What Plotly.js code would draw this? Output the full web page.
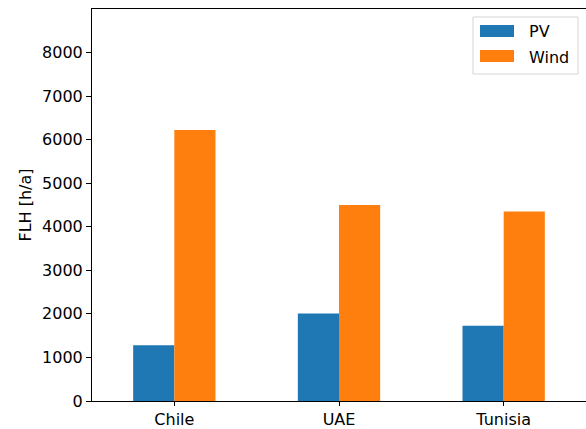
<!DOCTYPE html>
<html><head><meta charset="utf-8">
<script src="https://cdn.plot.ly/plotly-3.0.1.min.js"></script>
<style>html,body{margin:0;padding:0;background:#fff}</style>
</head><body>
<div id="chart" style="width:586px;height:429px"></div>
<script>
var countries = ["Chile", "UAE", "Tunisia"];
var pvFLH = [1280, 2010, 1725];
var windFLH = [6220, 4500, 4350];
var seriesNames = ["PV", "Wind"];
var seriesColors = ["#1f77b4", "#ff7f0e"];
var yTicks = [0, 1000, 2000, 3000, 4000, 5000, 6000, 7000, 8000];

var W = 586, H = 429, L = 92, R = 0, T = 9, B = 28;
var pw = W - L - R, ph = H - T - B;
function px(x){ return (x - L) / pw; }
function py(y){ return (H - B - y) / ph; }

var font = {family: "DejaVu Sans, sans-serif", size: 16, color: "#000"};

var traces = [
  {type: "bar", x: countries, y: pvFLH, name: seriesNames[0], marker: {color: seriesColors[0]}, showlegend: false},
  {type: "bar", x: countries, y: windFLH, name: seriesNames[1], marker: {color: seriesColors[1]}, showlegend: false}
];

var shapes = [
  {type: "rect", xref: "paper", yref: "paper", x0: px(473), x1: px(578), y0: py(17), y1: py(74),
   line: {color: "#d5d5d5", width: 1}, fillcolor: "rgba(255,255,255,0.8)", layer: "above"},
  {type: "rect", xref: "paper", yref: "paper", x0: px(480), x1: px(514), y0: py(25), y1: py(37),
   line: {width: 0}, fillcolor: seriesColors[0], layer: "above"},
  {type: "rect", xref: "paper", yref: "paper", x0: px(480), x1: px(514), y0: py(50), y1: py(62),
   line: {width: 0}, fillcolor: seriesColors[1], layer: "above"}
];
var annotations = [
  {xref: "paper", yref: "paper", x: px(527), y: py(31), text: seriesNames[0], showarrow: false,
   xanchor: "left", yanchor: "middle", font: font},
  {xref: "paper", yref: "paper", x: px(527), y: py(57), text: seriesNames[1], showarrow: false,
   xanchor: "left", yanchor: "middle", font: font}
];

var layout = {
  width: W, height: H,
  margin: {l: L, r: R, t: T, b: B, pad: 0},
  paper_bgcolor: "#fff", plot_bgcolor: "#fff",
  font: font,
  barmode: "group", bargap: 0.5, bargroupgap: 0,
  xaxis: {
    range: [-0.5, 2.5], showgrid: false, zeroline: false,
    showline: true, mirror: true, linecolor: "#000", linewidth: 1,
    ticks: "outside", ticklen: 4, tickwidth: 1, tickcolor: "#000",
    tickfont: font
  },
  yaxis: {
    range: [0, 9000], tickvals: yTicks, ticktext: yTicks.map(String),
    showgrid: false, zeroline: false,
    showline: true, mirror: true, linecolor: "#000", linewidth: 1,
    ticks: "outside", ticklen: 5, tickwidth: 1, tickcolor: "#000",
    tickfont: font,
    title: {text: "FLH [h/a]", font: {family: font.family, size: 16, color: "#000"}, standoff: 6}
  },
  shapes: shapes,
  annotations: annotations
};

Plotly.newPlot("chart", traces, layout, {displayModeBar: false, staticPlot: true});
</script>
</body></html>
